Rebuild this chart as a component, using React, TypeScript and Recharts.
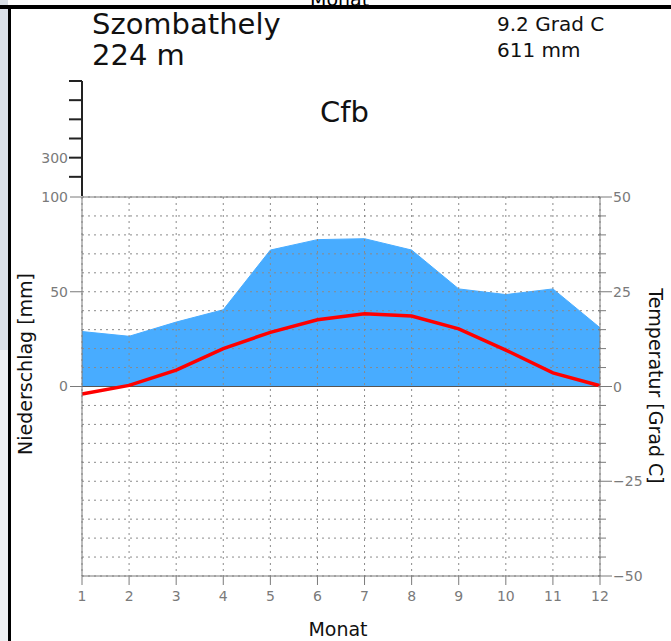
import React from "react";
import {
  ComposedChart,
  Area,
  Line,
  XAxis,
  YAxis,
  CartesianGrid,
  ReferenceLine,
} from "recharts";

const months = [1, 2, 3, 4, 5, 6, 7, 8, 9, 10, 11, 12];
const precipitation = [29, 26.5, 34, 40.5, 72, 77.5, 78, 72, 51.5, 48.5, 51.5, 31];
const temperature = [-2, 0.3, 4.3, 10, 14.3, 17.6, 19.2, 18.6, 15.2, 9.6, 3.6, 0.2];

const precipTicks = [0, 50, 100];
const precipUpperTicks = [200, 300, 400, 500, 600, 700];
const precipUpperLabels = [300];
const tempTicks = [-50, -45, -40, -35, -30, -25, -20, -15, -10, -5, 0, 5, 10, 15, 20, 25, 30, 35, 40, 45, 50];
const tempLabels = [-50, -25, 0, 25, 50];

const station = "Szombathely";
const elevation = "224 m";
const meanTemp = "9.2 Grad C";
const totalPrecip = "611 mm";
const climateClass = "Cfb";

const FONT = '"DejaVu Sans", sans-serif';
const AXIS = "#7a7a7a";
const BLUE = "#48acff";

const data = months.map((m, i) => ({
  month: m,
  precip: precipitation[i],
  temp: temperature[i],
}));

const upperData = precipUpperTicks.map((v, i) => ({ i, v }));

function TempTick({ x, y, payload }: any) {
  const major = tempLabels.includes(payload.value);
  const v = payload.value;
  return (
    <g>
      <line x1={x - 2} x2={x + (major ? 12 : 6)} y1={y} y2={y} stroke={AXIS} />
      {major && (
        <text x={x + 13} y={y} dy={5} fill={AXIS} fontSize={14} fontFamily={FONT}>
          {v < 0 ? `\u2212${-v}` : v}
        </text>
      )}
    </g>
  );
}

function UpperTick({ x, y, payload }: any) {
  const labelled = precipUpperLabels.includes(payload.value);
  return (
    <g>
      <line x1={x - 13} x2={x} y1={y} y2={y} stroke="#222" strokeWidth={2} />
      {labelled && (
        <text x={x - 14} y={y} dy={5} textAnchor="end" fill={AXIS} fontSize={14} fontFamily={FONT}>
          {payload.value}
        </text>
      )}
    </g>
  );
}

export default function App() {
  return (
    <div
      style={{
        position: "absolute",
        left: 0,
        top: 0,
        width: 671,
        height: 641,
        background: "#fff",
        overflow: "hidden",
        fontFamily: FONT,
      }}
    >
      {/* page frame bits */}
      <div style={{ position: "absolute", left: 0, top: 0, width: 8, height: 350, background: "#d9dfe7" }} />
      <div style={{ position: "absolute", left: 0, top: 350, width: 8, height: 291, background: "#eef0f3" }} />
      <div style={{ position: "absolute", left: 310, top: 0, height: 5, overflow: "hidden", fontSize: 19, lineHeight: "20px" }}>
        <div style={{ position: "relative", top: -11 }}>Monat</div>
      </div>
      <div style={{ position: "absolute", left: 0, top: 5, width: 671, height: 4, background: "#000" }} />
      <div style={{ position: "absolute", left: 8, top: 5, width: 3, height: 636, background: "#000" }} />

      <ComposedChart
        width={671}
        height={641}
        data={data}
        margin={{ top: 197, right: 21, bottom: 35, left: 22 }}
        style={{ position: "absolute", left: 0, top: 0 }}
      >
        <XAxis
          dataKey="month"
          type="number"
          domain={[1, 12]}
          ticks={months}
          interval={0}
          height={30}
          tickSize={9}
          tickMargin={6}
          stroke={AXIS}
          tick={{ fill: AXIS, fontSize: 14, fontFamily: FONT }}
        />
        <YAxis
          yAxisId="p"
          orientation="left"
          type="number"
          domain={[-100, 100]}
          ticks={precipTicks}
          interval={0}
          width={60}
          tickSize={12}
          tickMargin={2}
          stroke={AXIS}
          tick={{ fill: AXIS, fontSize: 14, fontFamily: FONT }}
        />
        <YAxis
          yAxisId="t"
          orientation="right"
          type="number"
          domain={[-50, 50]}
          ticks={tempTicks}
          interval={0}
          width={50}
          tickSize={0}
          tickMargin={0}
          tickLine={false}
          stroke={AXIS}
          tick={<TempTick />}
        />
        <Area
          yAxisId="p"
          dataKey="precip"
          type="linear"
          baseValue={0}
          fill={BLUE}
          fillOpacity={1}
          stroke={BLUE}
          strokeWidth={1}
          isAnimationActive={false}
        />
        <CartesianGrid
          yAxisId="t"
          stroke="#8a8a8a"
          strokeDasharray="2 4"
          zIndex={150}
        />
        <ReferenceLine yAxisId="t" y={50} stroke={AXIS} />
        <ReferenceLine yAxisId="t" y={0} stroke="#555" />
        <Line
          yAxisId="t"
          dataKey="temp"
          type="linear"
          stroke="#ff0000"
          strokeWidth={3.5}
          dot={false}
          activeDot={false}
          isAnimationActive={false}
        />
      </ComposedChart>

      {/* compressed precipitation scale above 100 mm */}
      <ComposedChart
        width={90}
        height={200}
        data={upperData}
        margin={{ top: 81, right: 0, bottom: 4, left: 22 }}
        style={{ position: "absolute", left: 0, top: 0 }}
      >
        <XAxis dataKey="i" hide />
        <YAxis
          type="number"
          domain={[100, 700]}
          ticks={precipUpperTicks}
          interval={0}
          width={60}
          tickSize={0}
          tickMargin={0}
          tickLine={false}
          axisLine={{ stroke: "#222", strokeWidth: 2 }}
          tick={<UpperTick />}
        />
        <Line dataKey="v" stroke="none" dot={false} activeDot={false} isAnimationActive={false} />
      </ComposedChart>

      {/* header texts */}
      <div style={{ position: "absolute", left: 92, top: 9, fontSize: 29, lineHeight: "31px", color: "#111" }}>
        <div>{station}</div>
        <div>{elevation}</div>
      </div>
      <div style={{ position: "absolute", left: 497, top: 11, fontSize: 20, lineHeight: "26px", color: "#111" }}>
        <div>{meanTemp}</div>
        <div>{totalPrecip}</div>
      </div>
      <div style={{ position: "absolute", left: 320, top: 95, fontSize: 29, lineHeight: "34px", color: "#111" }}>
        {climateClass}
      </div>

      {/* axis titles */}
      <div
        style={{
          position: "absolute",
          left: 25,
          top: 364,
          transform: "translate(-50%, -50%) rotate(-90deg)",
          whiteSpace: "nowrap",
          fontSize: 19,
          color: "#111",
        }}
      >
        Niederschlag [mm]
      </div>
      <div
        style={{
          position: "absolute",
          left: 656,
          top: 386,
          transform: "translate(-50%, -50%) rotate(90deg)",
          whiteSpace: "nowrap",
          fontSize: 19,
          color: "#111",
        }}
      >
        Temperatur [Grad C]
      </div>
      <div style={{ position: "absolute", left: 338, top: 629, transform: "translate(-50%, -50%)", fontSize: 19, lineHeight: "22px", color: "#111" }}>
        Monat
      </div>
    </div>
  );
}
